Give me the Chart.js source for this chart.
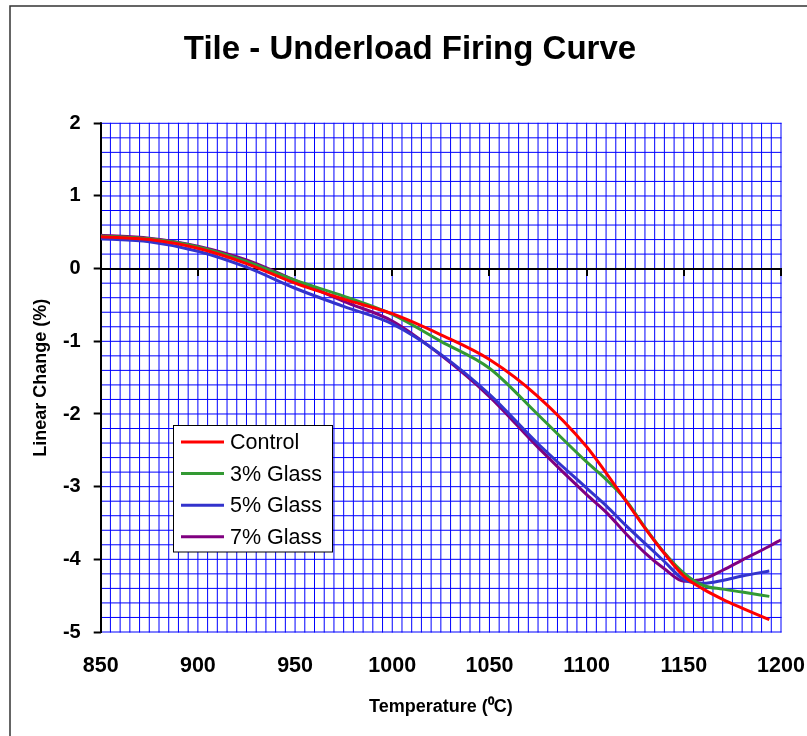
<!DOCTYPE html>
<html>
<head>
<meta charset="utf-8">
<script src="https://cdn.jsdelivr.net/npm/chart.js@4.4.1/dist/chart.umd.min.js"></script>
<style>
html,body{margin:0;padding:0;background:#fff;}
#wrap{width:807px;height:736px;position:relative;}
</style>
</head>
<body>
<div id="wrap"><canvas id="c" width="807" height="736"></canvas></div>
<script>
// ---- data ----
const temperatures = [850,875,900,925,950,975,1000,1025,1050,1075,1100,1110,1120,1130,1140,1150,1160,1170,1180,1194,1200];
const control = [0.44,0.40,0.28,0.07,-0.20,-0.42,-0.62,-0.91,-1.25,-1.76,-2.45,-2.81,-3.19,-3.57,-3.92,-4.23,-4.41,-4.55,-4.67,-4.83,null];
const glass3  = [0.45,0.41,0.30,0.10,-0.16,-0.38,-0.63,-1.00,-1.37,-2.01,-2.66,-2.90,-3.18,-3.56,-3.91,-4.19,-4.36,-4.41,-4.45,-4.51,null];
const glass5  = [0.41,0.37,0.24,0.02,-0.27,-0.52,-0.76,-1.18,-1.73,-2.41,-3.02,-3.26,-3.53,-3.78,-4.03,-4.28,-4.33,-4.29,-4.23,-4.16,null];
const glass7  = [0.46,0.42,0.31,0.12,-0.16,-0.45,-0.72,-1.19,-1.76,-2.46,-3.11,-3.35,-3.64,-3.91,-4.13,-4.30,-4.27,-4.15,-4.01,-3.82,-3.73];
const seriesNames = ['Control','3% Glass','5% Glass','7% Glass'];
const seriesColors = ['#FF0000','#339933','#3333CC','#800080'];
const xMin = 850, xMax = 1200, xMajor = 50, xMinor = 5;
const yMin = -5, yMax = 2, yMinor = 0.2;
const titleText = 'Tile - Underload Firing Curve';
const xTitle = 'Temperature (\u2070C)';
const yTitle = 'Linear Change (%)';

const FONT = '"Liberation Sans", Arial, Helvetica, sans-serif';
const GRID = '#0000FF';
const isInt = v => Math.abs(v - Math.round(v)) < 1e-6;
const toPts = arr => temperatures.map((t, i) => ({x: t, y: arr[i]}));

const datasets = [control, glass3, glass5, glass7].map((arr, i) => ({
  label: seriesNames[i],
  data: toPts(arr),
  borderColor: seriesColors[i],
  backgroundColor: seriesColors[i],
  borderWidth: 3,
  pointRadius: 0,
  fill: false,
  cubicInterpolationMode: 'monotone',
  spanGaps: false,
  xAxisID: 'x',
  yAxisID: 'y'
}));

const framePlugin = {
  id: 'frame',
  beforeDraw(chart) {
    const ctx = chart.ctx;
    ctx.save();
    ctx.fillStyle = '#fff';
    ctx.fillRect(0, 0, chart.width, chart.height);
    ctx.strokeStyle = '#333';
    ctx.lineWidth = 1.5;
    ctx.strokeRect(10, 6, chart.width + 20, chart.height + 20);
    ctx.restore();
  }
};

// minor grid from the scales' own ticks (not pixel-snapped, like the original rendering)
const gridPlugin = {
  id: 'grid',
  beforeDatasetsDraw(chart) {
    const {ctx, chartArea: a, scales: {x, y}} = chart;
    ctx.save();
    ctx.strokeStyle = GRID;
    ctx.lineWidth = 1;
    ctx.beginPath();
    x.ticks.forEach(tk => {
      const px = x.getPixelForValue(tk.value);
      ctx.moveTo(px, a.top - 0.5);
      ctx.lineTo(px, a.bottom + 0.5);
    });
    y.ticks.forEach(tk => {
      const py = y.getPixelForValue(tk.value);
      ctx.moveTo(a.left, py);
      ctx.lineTo(a.right + 0.5, py);
    });
    ctx.stroke();
    ctx.restore();
  }
};

// axis lines: y axis on the left, x axis crossing at y = 0 with major tick marks
const axesPlugin = {
  id: 'axes',
  beforeDatasetsDraw(chart) {
    const {ctx, chartArea: a, scales: {x, y}} = chart;
    const y0 = Math.round(y.getPixelForValue(0));
    const x0 = Math.round(x.getPixelForValue(xMin));
    ctx.save();
    ctx.strokeStyle = '#000';
    ctx.lineWidth = 2;
    ctx.beginPath();
    ctx.moveTo(x0, y0);
    ctx.lineTo(a.right + 1, y0);
    for (let t = xMin; t <= xMax; t += xMajor) {
      const px = Math.round(x.getPixelForValue(t));
      ctx.moveTo(px, y0);
      ctx.lineTo(px, y0 + 7);
    }
    ctx.moveTo(x0, a.top - 1);
    ctx.lineTo(x0, a.bottom + 1);
    ctx.stroke();
    ctx.restore();
  }
};

const legendPlugin = {
  id: 'boxLegend',
  afterDatasetsDraw(chart) {
    const ctx = chart.ctx;
    ctx.save();
    const bx = 173.5, by = 425.5, bw = 159, bh = 126.5;
    ctx.fillStyle = '#fff';
    ctx.fillRect(bx, by, bw, bh);
    ctx.strokeStyle = '#000';
    ctx.lineWidth = 1;
    ctx.strokeRect(bx, by, bw, bh);
    chart.data.datasets.forEach((ds, i) => {
      const y = 442 + i * 31.6;
      ctx.strokeStyle = ds.borderColor;
      ctx.lineWidth = 3;
      ctx.beginPath();
      ctx.moveTo(181, y);
      ctx.lineTo(224, y);
      ctx.stroke();
      ctx.fillStyle = '#000';
      ctx.font = '21.5px ' + FONT;
      ctx.textBaseline = 'middle';
      ctx.textAlign = 'left';
      ctx.fillText(ds.label, 230, y + 1);
    });
    ctx.restore();
  }
};

new Chart(document.getElementById('c'), {
  type: 'line',
  data: { datasets },
  plugins: [framePlugin, gridPlugin, axesPlugin, legendPlugin],
  options: {
    responsive: false,
    animation: false,
    devicePixelRatio: 1,
    layout: { padding: { left: 13, right: 0, top: 0, bottom: 0 } },
    plugins: {
      legend: { display: false },
      tooltip: { enabled: false },
      title: {
        display: true,
        text: titleText,
        color: '#000',
        font: { family: FONT, size: 33, weight: 'bold' },
        padding: { top: 30, bottom: 53.7 }
      }
    },
    scales: {
      x: {
        type: 'linear',
        position: 'bottom',
        min: xMin, max: xMax,
        afterFit(s) { s.height = 104; s.paddingLeft = 0; s.paddingRight = 26; },
        ticks: {
          stepSize: xMinor, autoSkip: false, maxRotation: 0, minRotation: 0,
          padding: 21, color: '#000',
          font: { family: FONT, size: 21.5, weight: 'bold' },
          callback: v => (Math.round(v) % xMajor === 0 ? String(Math.round(v)) : '')
        },
        grid: { display: false, drawTicks: false },
        border: { display: false },
        title: {
          display: true, text: xTitle, color: '#000',
          font: { family: FONT, size: 18, weight: 'bold' },
          padding: { top: 0, bottom: 18 }
        }
      },
      y: {
        type: 'linear',
        position: 'left',
        min: yMin, max: yMax,
        afterFit(s) { s.width = 87.7; s.paddingTop = 0; s.paddingBottom = 0; },
        ticks: {
          stepSize: yMinor, autoSkip: false, padding: 13, color: '#000',
          font: { family: FONT, size: 20, weight: 'bold' },
          callback: v => (isInt(v) ? String(Math.round(v) === 0 ? 0 : Math.round(v)) : '')
        },
        grid: {
          drawOnChartArea: false, drawTicks: true, tickLength: 7, tickWidth: 2,
          tickColor: ctx => (ctx.tick && isInt(ctx.tick.value) ? '#000' : 'rgba(0,0,0,0)')
        },
        border: { display: false },
        title: {
          display: true, text: yTitle, color: '#000',
          font: { family: FONT, size: 18, weight: 'bold' },
          padding: { top: 17.7, bottom: 0 }
        }
      }
    }
  }
});
</script>
</body>
</html>
